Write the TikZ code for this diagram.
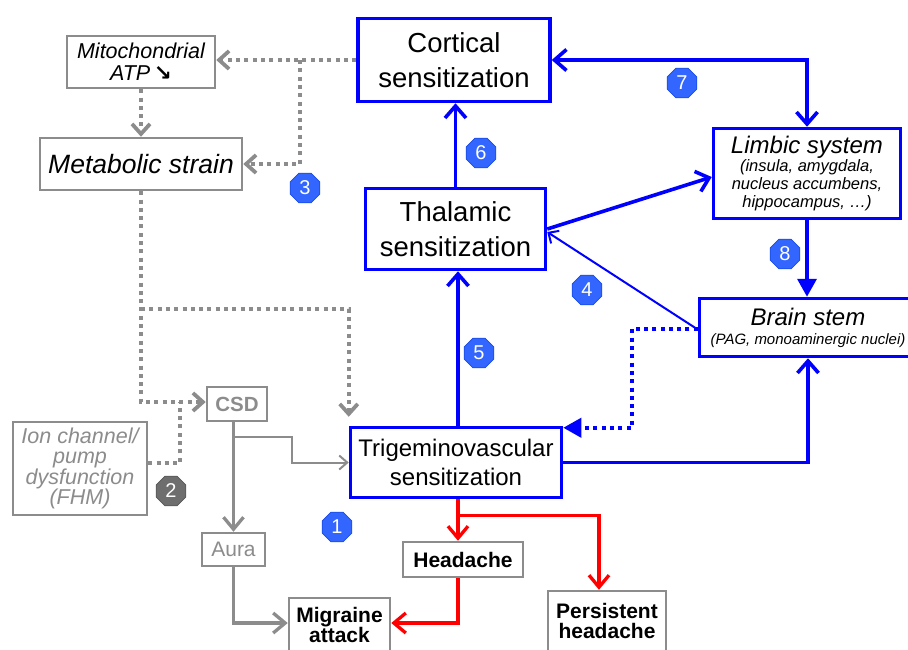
\documentclass[tikz,border=0pt]{standalone}
\usepackage{fontspec}
\setmainfont{Liberation Sans}
\newfontfamily\symfont{DejaVu Sans}
\usepackage{tikz}
\usetikzlibrary{arrows.meta,positioning,shapes.geometric,calc}
\definecolor{pathblue}{HTML}{0000FF}
\definecolor{pathred}{HTML}{FF0000}
\definecolor{linegray}{HTML}{8C8C8C}
\definecolor{badgeblue}{HTML}{3366FF}
\definecolor{badgerim}{HTML}{1A4BE6}
\definecolor{badgegray}{HTML}{6E6E6E}
\tikzset{
  bluebox/.style={draw=pathblue,fill=white,line width=3.5pt,align=center,
                  inner sep=0pt,font=\fontsize{27.5}{34.5}\selectfont},
  graybox/.style={draw=linegray,fill=white,line width=2.5pt,align=center,
                  inner sep=0pt,font=\fontsize{21}{20.5}\selectfont\bfseries},
  badge/.style={regular polygon,regular polygon sides=8,minimum size=32pt,
                inner sep=0pt,fill=badgeblue,draw=badgerim,line width=0.8pt,
                text=white,font=\fontsize{20}{20}\selectfont},
  graybadge/.style={badge,fill=badgegray,draw=badgegray!80!black},
  bluearr/.style={-{Straight Barb[length=12pt,width=21pt]},line width=3.6pt,
                  draw=pathblue},
  bluethin/.style={-{Straight Barb[length=8pt,width=15pt]},line width=2pt,
                   draw=pathblue},
  bluefill/.style={-{Triangle[length=18pt,width=19pt]},line width=3.6pt,
                   draw=pathblue},
  bluedot/.style={-{Triangle[length=18pt,width=19pt]},line width=3.8pt,
                  draw=pathblue,dash pattern=on 4pt off 4.3pt},
  grayarr/.style={-{Straight Barb[length=12pt,width=20pt]},line width=3.3pt,
                  draw=linegray},
  graythin/.style={-{Straight Barb[length=8pt,width=14pt]},line width=2pt,
                   draw=linegray},
  graydot/.style={-{Straight Barb[length=10pt,width=18pt]},line width=3.8pt,
                  draw=linegray,dash pattern=on 4pt off 4.3pt},
  redarr/.style={-{Straight Barb[length=12pt,width=20pt]},line width=3.3pt,
                 draw=pathred}
}

\begin{document}
\begin{tikzpicture}[x=1pt,y=-1pt]
    \useasboundingbox (0,0) rectangle (908,649);
    % sensitization boxes
    \node[bluebox,minimum width=192pt,minimum height=83pt] (cortical) at (454,60)
      {Cortical\\sensitization};
    \node[bluebox,minimum width=180pt,minimum height=81pt] (thalamic) at (455.5,229)
      {Thalamic\\sensitization};
    \node[bluebox,minimum width=211pt,minimum height=70pt,
          font=\fontsize{24}{29}\selectfont] (trig) at (456,462.5)
      {Trigeminovascular\\sensitization};
    \node[bluebox,minimum width=187pt,minimum height=90pt,
          font=\fontsize{16.5}{18}\selectfont\itshape] (limbic) at (807,173.5)
      {{\fontsize{24}{24}\selectfont Limbic system}\\(insula, amygdala,\\
       nucleus accumbens,\\hippocampus, \dots)};
    \node[bluebox,minimum width=217pt,minimum height=58pt,
          font=\fontsize{15}{19}\selectfont\itshape] (brainstem) at (808,327.5)
      {{\fontsize{24}{24}\selectfont Brain stem}\\(PAG, monoaminergic nuclei)};

    % gray boxes
    \node[graybox,minimum width=148pt,minimum height=52pt,
          font=\fontsize{21.5}{22}\selectfont\itshape] (mito) at (141,62)
      {Mitochondrial\\ATP\,{\symfont\upshape\bfseries ↘}};
    \node[graybox,minimum width=202pt,minimum height=52pt,
          font=\fontsize{26.5}{30}\selectfont\itshape] (metab) at (141,164)
      {Metabolic strain};
    \node[graybox,minimum width=134pt,minimum height=93pt,text=linegray,
          font=\fontsize{21.5}{20.5}\selectfont\itshape] (ion) at (80,468.5)
      {Ion channel/\\pump\\dysfunction\\(FHM)};
    \node[graybox,minimum width=60pt,minimum height=34pt,text=linegray,
          font=\fontsize{20.5}{20.5}\selectfont\bfseries] (csd) at (237,404)
      {CSD};
    \node[graybox,minimum width=63pt,minimum height=33pt,text=linegray,
          font=\fontsize{21}{21}\selectfont] (aura) at (233.5,549.5)
      {Aura};
    \node[graybox,minimum width=120pt,minimum height=35pt] (headache) at (463,559.5)
      {Headache};
    \node[graybox,minimum width=101pt,minimum height=54pt] (migraine) at (339.5,625)
      {Migraine\\attack};
    \node[graybox,minimum width=118pt,minimum height=60pt] (persistent) at (607,621)
      {Persistent\\headache};

    % metabolic pathway
    \coordinate (fork3) at (300,60);
    \coordinate (fork1) at (141,309);
    \coordinate (join2) at (180,402);
    \coordinate (fork4) at (233,437);
    \draw[graydot] (cortical.west) -- (cortical.west -| mito.east);
    \draw[graydot] (fork3) |- (metab.east);
    \draw[graydot] (mito) -- (metab);
    \draw[graydot] (metab.south) |- ($(csd.west)+(0,-2)$);
    \draw[graydot] (fork1) -| ($(trig.north west)+(0,-9)$);
    \draw[graydot,-] ($(ion.east)+(0,-5.5)$) -| (join2);

    % aura and attack
    \draw[grayarr] (aura.north |- csd.south) -- (aura.north);
    \draw[graythin] (fork4) -- ++(59,0) |- (trig.west);
    \draw[grayarr] (aura.south) |- ($(migraine.west)+(0,-2)$);

    % pain outputs
    \coordinate (trigfoot) at ($(trig.south)+(2,0)$);
    \coordinate (fork5) at ($(trig.south)+(2,16)$);
    \draw[redarr] (trigfoot) -- (trigfoot |- headache.north);
    \draw[redarr] (fork5) -| ($(persistent.north)+(-8,0)$);
    \draw[redarr] (trigfoot |- headache.south) |- ($(migraine.east)+(0,-2)$);

    % ascending and modulating pathways
    \coordinate (trigtop) at ($(trig.north)+(2,0)$);
    \draw[bluearr] (trigtop) -- (trigtop |- thalamic.south);
    \draw[bluearr] (thalamic.north) -- (thalamic.north |- cortical.south);
    \draw[bluearr,{Straight Barb[length=12pt,width=21pt]}-{Straight Barb[length=12pt,width=21pt]}]
      (cortical.east) -| (limbic.north);
    \draw[bluearr] (thalamic.east) -- ($(limbic.west)+(0,3.5)$);
    \draw[bluethin] ($(brainstem.west)+(0,2)$) -- ($(thalamic.east)+(0,3)$);
    \draw[bluefill] (limbic.south) -- (limbic.south |- brainstem.north);
    \draw[bluedot] ($(brainstem.west)+(0,1.5)$) -- ++(-66,0)
      |- ($(trig.north east)+(0,2)$);
    \draw[bluearr] (trig.east) -| (brainstem.south);

    % numbered badges
    \node[badge] (b1) at (337,527) {1};
    \node[graybadge] (b2) at (171,491) {2};
    \node[badge] (b3) at (305,188) {3};
    \node[badge] (b4) at (587,290) {4};
    \node[badge] (b5) at (479,353) {5};
    \node[badge] (b6) at (481,153) {6};
    \node[badge] (b7) at (682,83) {7};
    \node[badge] (b8) at (785,254) {8};
\end{tikzpicture}
\end{document}
